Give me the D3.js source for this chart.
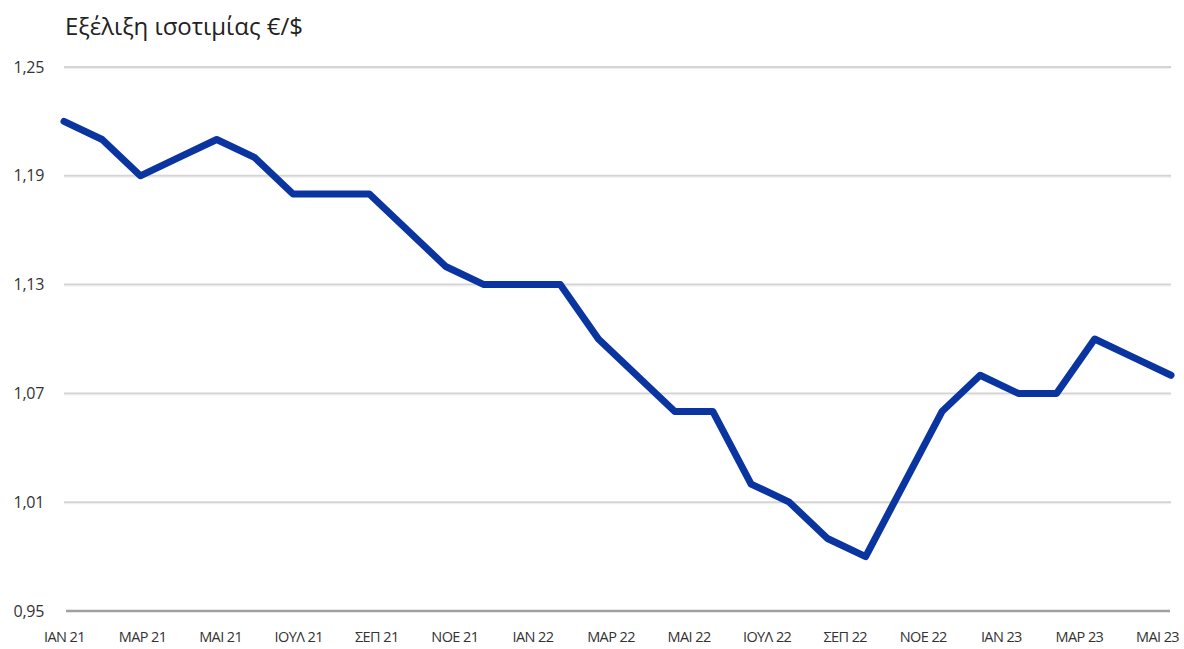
<!DOCTYPE html>
<html>
<head>
<meta charset="utf-8">
<script src="https://cdn.jsdelivr.net/npm/d3@7"></script>
<style>
  html, body { margin: 0; padding: 0; background: #fff; }
  svg { display: block; }
</style>
</head>
<body>
<svg id="chart" width="1184" height="649"></svg>
<script>
const title = "Εξέλιξη ισοτιμίας €/$";
const xLabels = ["ΙΑΝ 21","ΜΑΡ 21","ΜΑΙ 21","ΙΟΥΛ 21","ΣΕΠ 21","ΝΟΕ 21","ΙΑΝ 22","ΜΑΡ 22","ΜΑΙ 22","ΙΟΥΛ 22","ΣΕΠ 22","ΝΟΕ 22","ΙΑΝ 23","ΜΑΡ 23","ΜΑΙ 23"];
const yTicks = [0.95, 1.01, 1.07, 1.13, 1.19, 1.25];
const rates = [1.22,1.21,1.19,1.20,1.21,1.20,1.18,1.18,1.18,1.16,1.14,1.13,1.13,1.13,1.10,1.08,1.06,1.06,1.02,1.01,0.99,0.98,1.02,1.06,1.08,1.07,1.07,1.10,1.09,1.08];

(function () {
const svg = d3.select("#chart");
const mLeft = 64, mRight = 1171, mTop = 67, mBottom = 611;

const y = d3.scaleLinear().domain([0.95, 1.25]).range([mBottom, mTop]);
const xLine = d3.scaleLinear().domain([0, rates.length - 1]).range([mLeft, mRight]);
const xLab = d3.scalePoint().domain(xLabels).range([mLeft, 1157]);

const fmt = v => d3.format(".2f")(v).replace(".", ",");

// title
svg.append("text")
  .attr("x", 65).attr("y", 35)
  .attr("font-family", "'Open Sans', sans-serif")
  .attr("font-size", 24)
  .attr("fill", "#222")
  .text(title);

// gridlines
const grid = svg.append("g");
yTicks.forEach(t => {
  if (t === 0.95) return;
  grid.append("line")
    .attr("x1", mLeft).attr("x2", mRight)
    .attr("y1", y(t)).attr("y2", y(t))
    .attr("stroke", "#d4d4d4").attr("stroke-width", 2);
  grid.append("line")
    .attr("x1", mLeft).attr("x2", mRight)
    .attr("y1", y(t) + 1.5).attr("y2", y(t) + 1.5)
    .attr("stroke", "#eeeeee").attr("stroke-width", 1);
});
// baseline
svg.append("line")
  .attr("x1", mLeft + 2).attr("x2", mRight - 1)
  .attr("y1", y(0.95)).attr("y2", y(0.95))
  .attr("stroke", "#a0a0a0").attr("stroke-width", 2.5);

// y axis labels
const yAxis = d3.axisLeft(y).tickValues(yTicks).tickFormat(fmt).tickSize(0).tickPadding(0);
const gy = svg.append("g").attr("transform", "translate(44,0)").call(yAxis);
gy.select(".domain").remove();
gy.selectAll("text")
  .attr("font-family", "'Open Sans', sans-serif")
  .attr("font-size", 16)
  .attr("letter-spacing", "-0.3px")
  .attr("fill", "#333");

// x axis labels
const xAxis = d3.axisBottom(xLab).tickSize(0).tickPadding(0);
const gx = svg.append("g").attr("transform", "translate(0,632)").call(xAxis);
gx.select(".domain").remove();
gx.selectAll("text")
  .attr("font-family", "'Open Sans', sans-serif")
  .attr("font-size", 14.5)
  .attr("letter-spacing", "-0.6px")
  .attr("fill", "#333");

// line
const line = d3.line().x((d, i) => xLine(i)).y(d => y(d));
svg.append("path")
  .datum(rates)
  .attr("d", line)
  .attr("fill", "none")
  .attr("stroke", "#0a35a0")
  .attr("stroke-width", 7)
  .attr("stroke-linejoin", "round")
  .attr("stroke-linecap", "round");
})();
</script>
</body>
</html>
